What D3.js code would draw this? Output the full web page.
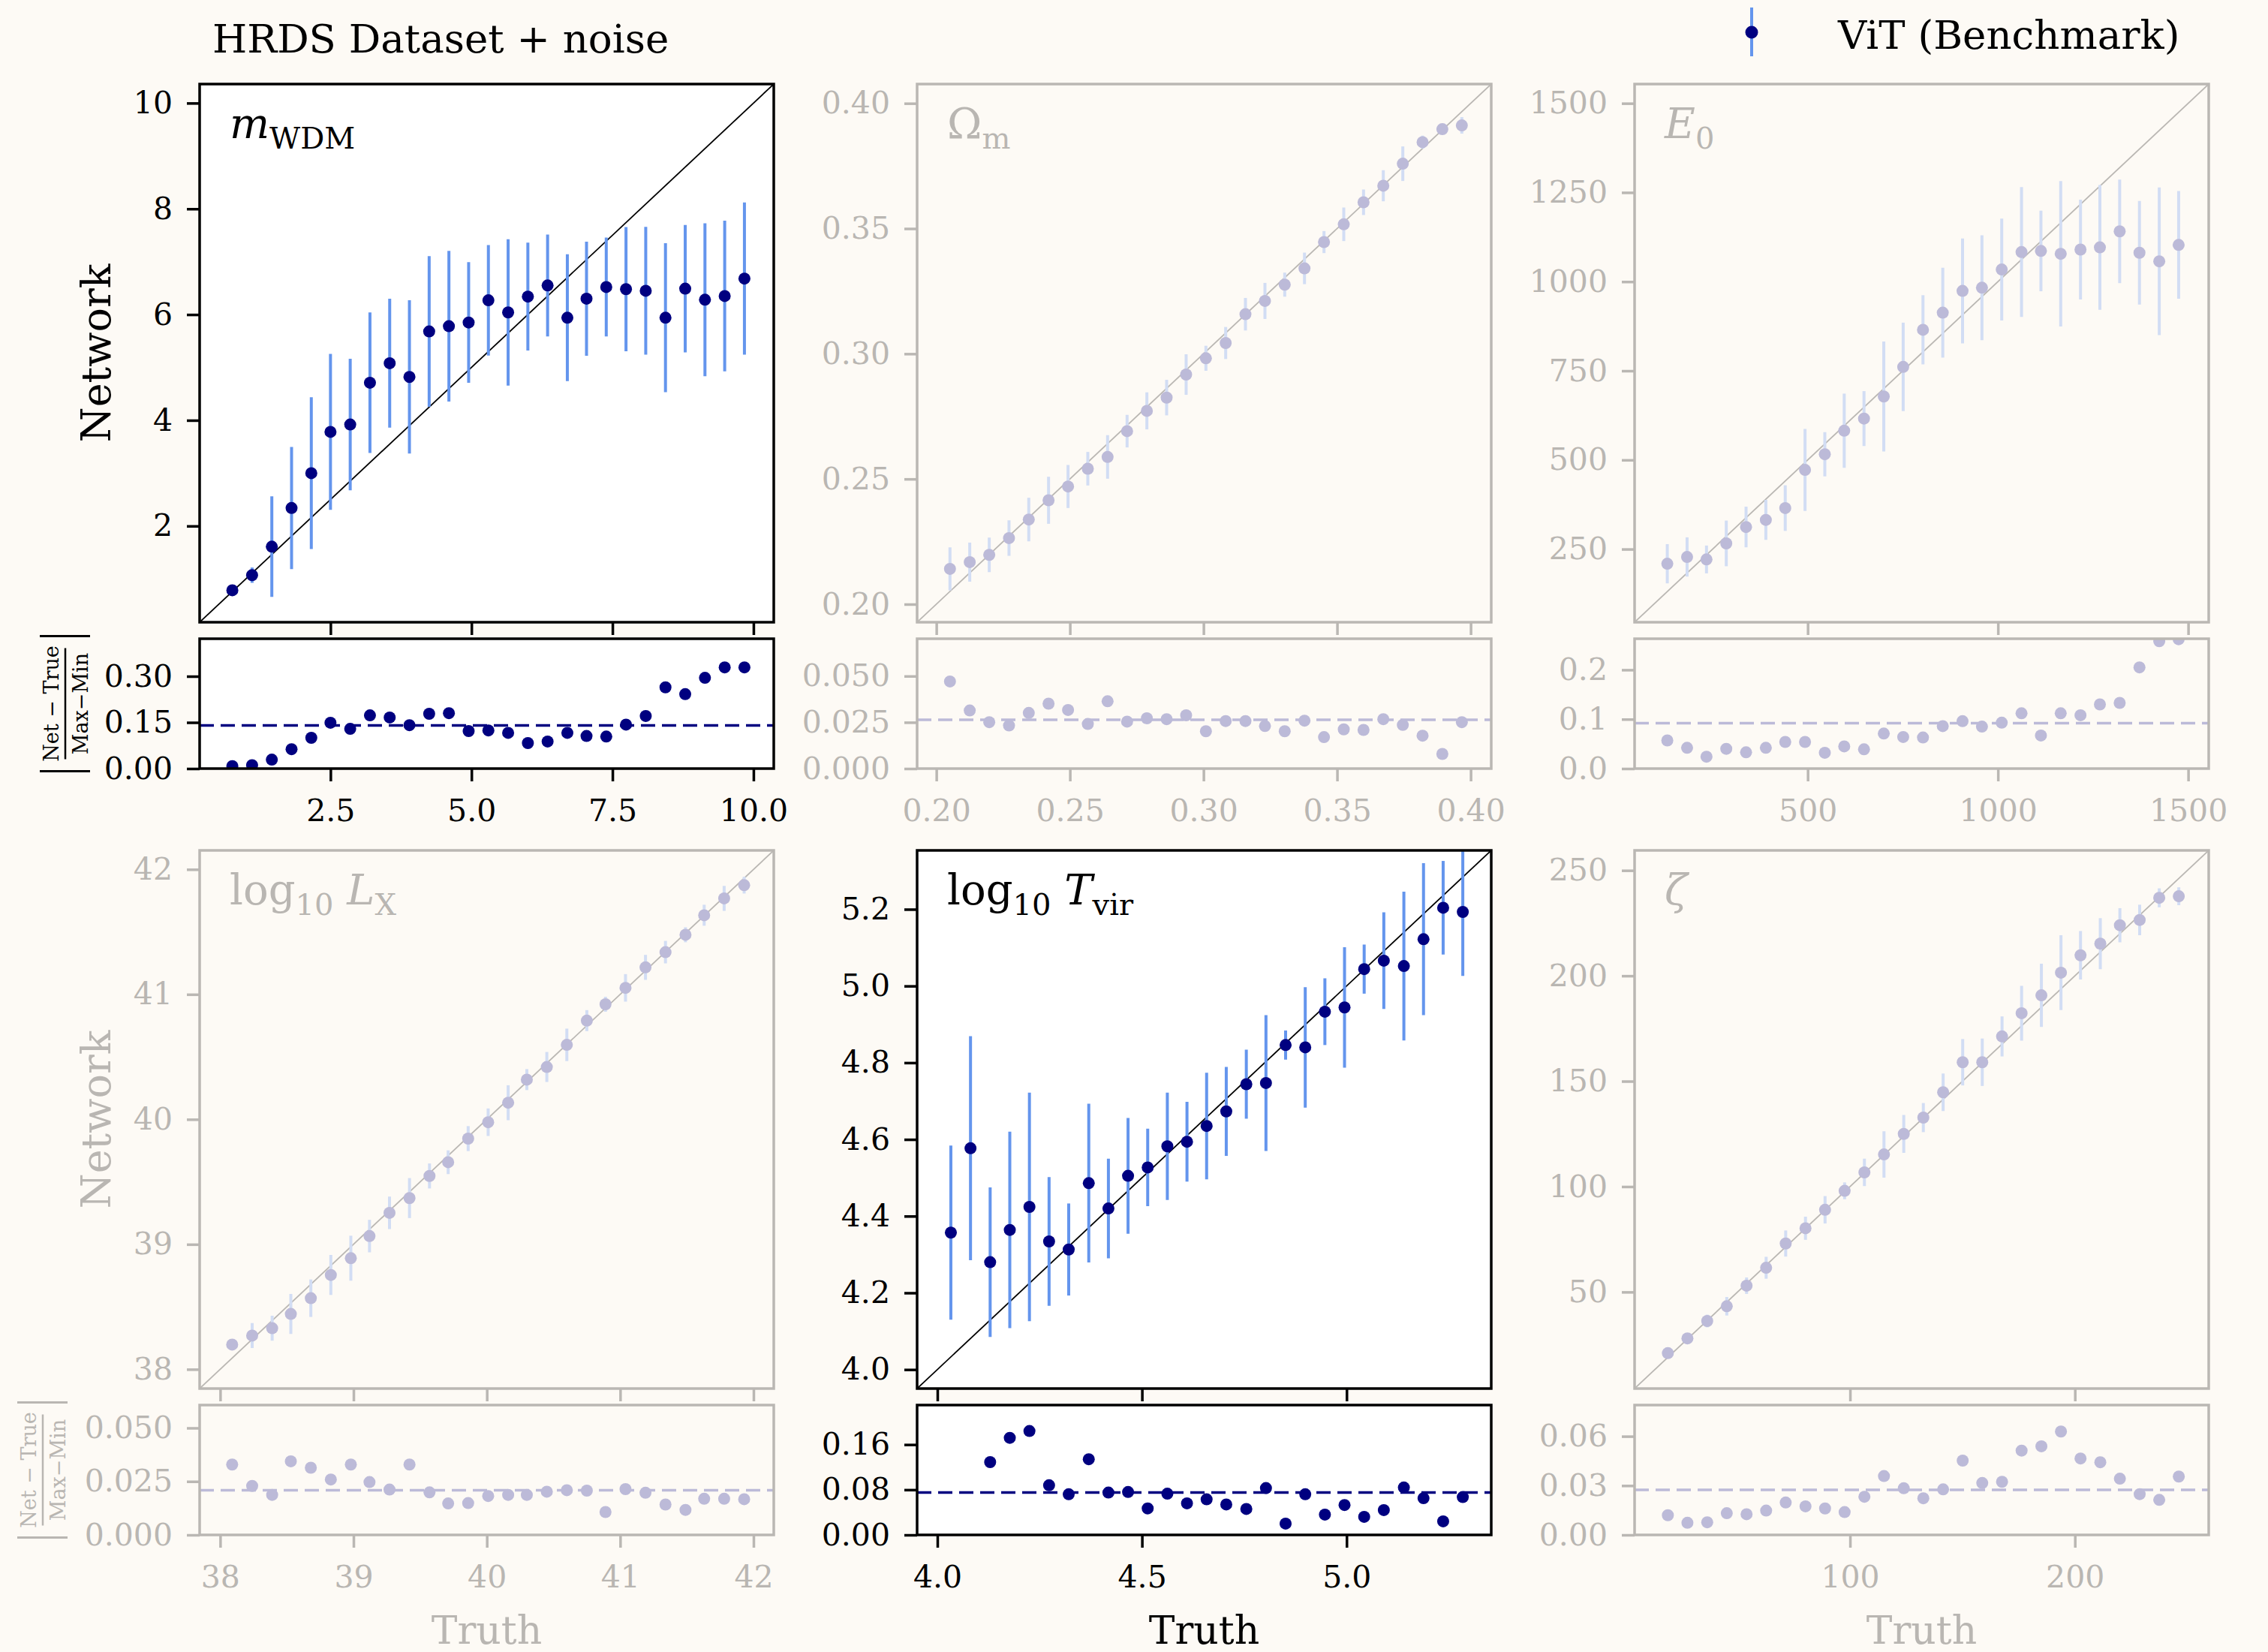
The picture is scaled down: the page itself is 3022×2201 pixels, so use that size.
<!DOCTYPE html>
<html>
<head>
<meta charset="utf-8">
<script src="https://cdn.jsdelivr.net/npm/d3@7"></script>
<style>
  body { margin: 0; background: #fdfaf5; }
  svg { display: block; }
</style>
</head>
<body>
<script>
// ---- data ----
const mwdmTruth = [0.76, 1.11, 1.46, 1.81, 2.16, 2.50, 2.85, 3.20, 3.55, 3.90, 4.25, 4.60, 4.95, 5.30, 5.65, 6.00, 6.35, 6.70, 7.04, 7.39, 7.74, 8.09, 8.44, 8.79, 9.14, 9.49, 9.84];
const mwdmNet = [0.785, 1.07, 1.61, 2.34, 3.00, 3.78, 3.92, 4.71, 5.08, 4.82, 5.68, 5.78, 5.85, 6.27, 6.04, 6.34, 6.55, 5.94, 6.30, 6.52, 6.48, 6.45, 5.94, 6.49, 6.28, 6.35, 6.68];
const mwdmErr = [0.05, 0.145, 0.95, 1.155, 1.435, 1.475, 1.245, 1.33, 1.22, 1.45, 1.425, 1.425, 1.14, 1.045, 1.385, 1.02, 0.965, 1.2, 1.08, 0.935, 1.175, 1.21, 1.41, 1.205, 1.445, 1.425, 1.44];
const mwdmRes = [0.008, 0.011, 0.029, 0.063, 0.100, 0.149, 0.129, 0.173, 0.166, 0.141, 0.178, 0.180, 0.122, 0.124, 0.116, 0.083, 0.088, 0.116, 0.106, 0.104, 0.143, 0.171, 0.264, 0.242, 0.295, 0.329, 0.329];
const mwdmResMean = 0.140;

const omTruth = [0.2051, 0.2125, 0.2198, 0.2272, 0.2346, 0.2420, 0.2493, 0.2567, 0.2641, 0.2714, 0.2788, 0.2862, 0.2935, 0.3009, 0.3083, 0.3157, 0.3230, 0.3304, 0.3378, 0.3451, 0.3525, 0.3599, 0.3673, 0.3746, 0.3820, 0.3894, 0.3967];
const omNet = [0.2141, 0.2168, 0.2197, 0.2264, 0.2338, 0.2415, 0.2470, 0.2541, 0.2588, 0.2691, 0.2772, 0.2825, 0.2917, 0.2982, 0.3043, 0.3158, 0.3211, 0.3276, 0.3341, 0.3446, 0.3517, 0.3605, 0.3671, 0.3759, 0.3845, 0.3897, 0.3912];
const omErr = [0.0086, 0.0078, 0.0069, 0.0071, 0.0087, 0.0094, 0.0086, 0.0067, 0.0087, 0.0065, 0.0074, 0.0071, 0.0081, 0.0050, 0.0064, 0.0065, 0.0072, 0.0048, 0.0063, 0.0044, 0.0067, 0.0051, 0.0062, 0.0069, 0.0026, 0.0010, 0.0033];
const omRes = [0.0471, 0.0314, 0.0251, 0.0233, 0.0301, 0.0351, 0.0317, 0.0241, 0.0364, 0.0254, 0.0272, 0.0267, 0.0288, 0.0202, 0.0257, 0.0257, 0.0230, 0.0202, 0.0259, 0.0170, 0.0212, 0.0209, 0.0267, 0.0236, 0.0178, 0.0079, 0.0251];
const omResMean = 0.0264;

const e0Truth = [131, 183, 234, 286, 338, 390, 441, 493, 545, 596, 648, 700, 751, 803, 855, 907, 958, 1010, 1062, 1113, 1165, 1217, 1268, 1320, 1372, 1424, 1475];
const e0Net = [209, 228, 221, 266, 312, 332, 365, 472, 516, 582, 616, 678, 761, 865, 913, 974, 983, 1034, 1083, 1086, 1078, 1090, 1096, 1141, 1081, 1057, 1103];
const e0Err = [55, 55, 39, 64, 57, 56, 64, 115, 62, 104, 77, 154, 124, 97, 126, 147, 147, 143, 182, 113, 204, 140, 175, 145, 145, 207, 151];
const e0Res = [0.057, 0.042, 0.024, 0.040, 0.033, 0.042, 0.054, 0.054, 0.032, 0.045, 0.039, 0.071, 0.064, 0.063, 0.086, 0.096, 0.085, 0.093, 0.112, 0.067, 0.112, 0.108, 0.130, 0.133, 0.205, 0.258, 0.262];
const e0ResMean = 0.092;

const lxTruth = [38.09, 38.24, 38.39, 38.53, 38.68, 38.83, 38.98, 39.12, 39.27, 39.42, 39.57, 39.71, 39.86, 40.01, 40.16, 40.30, 40.45, 40.60, 40.75, 40.89, 41.04, 41.19, 41.34, 41.49, 41.63, 41.78, 41.93];
const lxNet = [38.198, 38.270, 38.329, 38.443, 38.569, 38.755, 38.889, 39.066, 39.252, 39.370, 39.547, 39.657, 39.846, 39.977, 40.133, 40.318, 40.419, 40.596, 40.790, 40.921, 41.052, 41.216, 41.338, 41.477, 41.633, 41.768, 41.874];
const lxErr = [0.02, 0.10, 0.10, 0.16, 0.15, 0.16, 0.18, 0.13, 0.13, 0.16, 0.10, 0.095, 0.10, 0.11, 0.14, 0.084, 0.12, 0.13, 0.084, 0.06, 0.11, 0.10, 0.09, 0.06, 0.084, 0.10, 0.067];
const lxRes = [0.0329, 0.0229, 0.0187, 0.0344, 0.0314, 0.0259, 0.0329, 0.0247, 0.0212, 0.0329, 0.0199, 0.0147, 0.0149, 0.0182, 0.0187, 0.0187, 0.0202, 0.0209, 0.0207, 0.0107, 0.0214, 0.0197, 0.0142, 0.0117, 0.0169, 0.0169, 0.0167];
const lxResMean = 0.0209;

const tvTruth = [4.033, 4.081, 4.129, 4.177, 4.225, 4.273, 4.321, 4.370, 4.418, 4.466, 4.514, 4.562, 4.610, 4.658, 4.706, 4.755, 4.803, 4.851, 4.899, 4.947, 4.995, 5.043, 5.091, 5.140, 5.188, 5.236, 5.284];
const tvNet = [4.357, 4.577, 4.280, 4.364, 4.424, 4.334, 4.313, 4.486, 4.420, 4.505, 4.527, 4.582, 4.594, 4.635, 4.673, 4.744, 4.747, 4.846, 4.840, 4.933, 4.944, 5.044, 5.066, 5.052, 5.122, 5.204, 5.193];
const tvErr = [0.227, 0.292, 0.195, 0.256, 0.298, 0.168, 0.120, 0.207, 0.130, 0.151, 0.101, 0.140, 0.104, 0.139, 0.116, 0.090, 0.177, 0.038, 0.157, 0.087, 0.157, 0.064, 0.126, 0.194, 0.198, 0.122, 0.167];
const tvRes = [0.26, 0.31, 0.129, 0.172, 0.184, 0.088, 0.072, 0.134, 0.075, 0.076, 0.047, 0.073, 0.056, 0.063, 0.054, 0.046, 0.083, 0.020, 0.072, 0.036, 0.053, 0.032, 0.044, 0.084, 0.065, 0.024, 0.067];
const tvResMean = 0.075;

const zetaTruth = [19.0, 27.7, 36.5, 45.2, 54.0, 62.7, 71.4, 80.2, 88.9, 97.6, 106.4, 115.1, 123.9, 132.6, 141.4, 150.1, 158.8, 167.6, 176.3, 185.1, 193.8, 202.5, 211.3, 220.0, 228.8, 237.5, 246.2];
const zetaNet = [21.0, 28.0, 36.25, 43.25, 53.0, 61.5, 73.0, 80.25, 89.0, 98.0, 106.75, 115.25, 125.0, 132.75, 144.75, 159.0, 159.0, 171.25, 182.25, 190.75, 201.5, 209.75, 215.25, 224.0, 226.5, 237.0, 237.75];
const zetaErr = [1, 1.5, 3, 4.4, 3.9, 5.2, 6.2, 5.5, 6.5, 4, 6.5, 11, 9, 6.9, 8.9, 11, 11.25, 9.5, 13, 15, 17.75, 11.5, 12.1, 8.1, 7.25, 4.5, 4.25];
const zetaRes = [0.012, 0.0074, 0.0077, 0.0132, 0.0126, 0.0148, 0.0197, 0.0174, 0.0161, 0.0139, 0.0232, 0.0358, 0.0284, 0.0223, 0.0277, 0.0452, 0.0316, 0.0323, 0.0513, 0.0539, 0.0629, 0.0465, 0.0442, 0.0342, 0.0248, 0.0213, 0.0355];
const zetaResMean = 0.0274;

// tick values
const mwdmXTicks = [2.5, 5.0, 7.5, 10.0], mwdmYTicks = [2, 4, 6, 8, 10], mwdmResTicks = [0, 0.15, 0.30];
const omXTicks = [0.20, 0.25, 0.30, 0.35, 0.40], omYTicks = [0.20, 0.25, 0.30, 0.35, 0.40], omResTicks = [0, 0.025, 0.050];
const e0XTicks = [500, 1000, 1500], e0YTicks = [250, 500, 750, 1000, 1250, 1500], e0ResTicks = [0, 0.1, 0.2];
const lxXTicks = [38, 39, 40, 41, 42], lxYTicks = [38, 39, 40, 41, 42], lxResTicks = [0, 0.025, 0.050];
const tvXTicks = [4.0, 4.5, 5.0], tvYTicks = [4.0, 4.2, 4.4, 4.6, 4.8, 5.0, 5.2], tvResTicks = [0, 0.08, 0.16];
const zetaXTicks = [100, 200], zetaYTicks = [50, 100, 150, 200, 250], zetaResTicks = [0, 0.03, 0.06];

const titleText = 'HRDS Dataset + noise';
const legendText = 'ViT (Benchmark)';

// ---- layout ----
const W = 3022, H = 2201;
const BG = '#fdfaf5';
const FONT = '"DejaVu Serif", serif';
const colX = [266, 1222, 2178], pw = 765;
const mainY = [112, 1133], mainH = 717;
const resY = [851, 1872], resH = 173;
const resLabelX = [87, 57];

const on = { axis: '#000', text: '#000', point: '#000080', err: '#6495ed', diag: '#000', face: '#fff' };
const off = { axis: '#bab7b3', text: '#b9b6b2', point: '#bcbad8', err: '#d2ddf4', diag: '#bab7b3', face: 'none' };

const panels = [
  { col: 0, row: 0, active: true, truth: mwdmTruth, net: mwdmNet, err: mwdmErr, res: mwdmRes, mean: mwdmResMean,
    dom: [0.18, 10.36], xt: mwdmXTicks, xf: '.1f', yt: mwdmYTicks, yf: 'd', resDom: [0, 0.422], rt: mwdmResTicks, rf: '.2f',
    label: [{ t: 'm', it: 1 }, { t: 'WDM', sub: 1 }] },
  { col: 1, row: 0, active: false, truth: omTruth, net: omNet, err: omErr, res: omRes, mean: omResMean,
    dom: [0.1928, 0.4077], xt: omXTicks, xf: '.2f', yt: omYTicks, yf: '.2f', resDom: [0, 0.0702], rt: omResTicks, rf: '.3f',
    label: [{ t: 'Ω' }, { t: 'm', sub: 1 }] },
  { col: 2, row: 0, active: false, truth: e0Truth, net: e0Net, err: e0Err, res: e0Res, mean: e0ResMean,
    dom: [45, 1554], xt: e0XTicks, xf: 'd', yt: e0YTicks, yf: 'd', resDom: [0, 0.263], rt: e0ResTicks, rf: '.1f',
    label: [{ t: 'E', it: 1 }, { t: '0', sub: 1 }] },
  { col: 0, row: 1, active: false, truth: lxTruth, net: lxNet, err: lxErr, res: lxRes, mean: lxResMean,
    dom: [37.846, 42.152], xt: lxXTicks, xf: 'd', yt: lxYTicks, yf: 'd', resDom: [0, 0.0607], rt: lxResTicks, rf: '.3f',
    label: [{ t: 'log' }, { t: '10', sub: 1 }, { t: ' ' }, { t: 'L', it: 1 }, { t: 'X', sub: 1 }] },
  { col: 1, row: 1, active: true, truth: tvTruth, net: tvNet, err: tvErr, res: tvRes, mean: tvResMean,
    dom: [3.9505, 5.3535], xt: tvXTicks, xf: '.1f', yt: tvYTicks, yf: '.1f', resDom: [0, 0.23], rt: tvResTicks, rf: '.2f',
    label: [{ t: 'log' }, { t: '10', sub: 1 }, { t: ' ' }, { t: 'T', it: 1 }, { t: 'vir', sub: 1 }] },
  { col: 2, row: 1, active: false, truth: zetaTruth, net: zetaNet, err: zetaErr, res: zetaRes, mean: zetaResMean,
    dom: [4.2, 259.5], xt: zetaXTicks, xf: 'd', yt: zetaYTicks, yf: 'd', resDom: [0, 0.079], rt: zetaResTicks, rf: '.2f',
    label: [{ t: 'ζ', it: 1 }] }
];

const svg = d3.select('body').append('svg')
  .attr('width', W).attr('height', H)
  .attr('font-family', FONT);
svg.append('rect').attr('width', W).attr('height', H).attr('fill', BG);
const defs = svg.append('defs');

function styleAxis(g, c) {
  g.attr('font-family', FONT).attr('font-size', 41);
  g.select('.domain').remove();
  g.selectAll('.tick line').attr('stroke', c.axis).attr('stroke-width', 3.5);
  g.selectAll('.tick text').attr('fill', c.text);
}

panels.forEach((p, i) => {
  const c = p.active ? on : off;
  const x0 = colX[p.col], my = mainY[p.row], ry = resY[p.row];
  const x = d3.scaleLinear().domain(p.dom).range([x0, x0 + pw]);
  const y = d3.scaleLinear().domain(p.dom).range([my + mainH, my]);
  const yr = d3.scaleLinear().domain(p.resDom).range([ry + resH, ry]);

  defs.append('clipPath').attr('id', 'cm' + i).append('rect')
    .attr('x', x0).attr('y', my).attr('width', pw).attr('height', mainH);
  defs.append('clipPath').attr('id', 'cr' + i).append('rect')
    .attr('x', x0).attr('y', ry).attr('width', pw).attr('height', resH);

  // faces
  svg.append('rect').attr('x', x0).attr('y', my).attr('width', pw).attr('height', mainH).attr('fill', c.face);
  svg.append('rect').attr('x', x0).attr('y', ry).attr('width', pw).attr('height', resH).attr('fill', c.face);

  // main panel
  const gm = svg.append('g').attr('clip-path', `url(#cm${i})`);
  gm.append('line')
    .attr('x1', x(p.dom[0])).attr('y1', y(p.dom[0]))
    .attr('x2', x(p.dom[1])).attr('y2', y(p.dom[1]))
    .attr('stroke', c.diag).attr('stroke-width', 1.8);
  gm.selectAll('line.err').data(p.net).enter().append('line').attr('class', 'err')
    .attr('x1', (d, k) => x(p.truth[k])).attr('x2', (d, k) => x(p.truth[k]))
    .attr('y1', (d, k) => y(d - p.err[k])).attr('y2', (d, k) => y(d + p.err[k]))
    .attr('stroke', c.err).attr('stroke-width', 4);
  gm.selectAll('circle').data(p.net).enter().append('circle')
    .attr('cx', (d, k) => x(p.truth[k])).attr('cy', d => y(d)).attr('r', 8)
    .attr('fill', c.point);

  // residual panel
  const gr = svg.append('g').attr('clip-path', `url(#cr${i})`);
  gr.append('line')
    .attr('x1', x0).attr('x2', x0 + pw).attr('y1', yr(p.mean)).attr('y2', yr(p.mean))
    .attr('stroke', c.point).attr('stroke-width', 3.5).attr('stroke-dasharray', '19,9');
  gr.selectAll('circle').data(p.res).enter().append('circle')
    .attr('cx', (d, k) => x(p.truth[k])).attr('cy', d => yr(d)).attr('r', 8)
    .attr('fill', c.point);

  // axes
  svg.append('g').attr('transform', `translate(${x0},0)`)
    .call(d3.axisLeft(y).tickValues(p.yt).tickFormat(d3.format(p.yf)).tickSize(17).tickPadding(19))
    .call(g => styleAxis(g, c));
  svg.append('g').attr('transform', `translate(0,${my + mainH})`)
    .call(d3.axisBottom(x).tickValues(p.xt).tickFormat('').tickSize(17))
    .call(g => styleAxis(g, c));
  svg.append('g').attr('transform', `translate(${x0},0)`)
    .call(d3.axisLeft(yr).tickValues(p.rt).tickFormat(d3.format(p.rf)).tickSize(17).tickPadding(19))
    .call(g => styleAxis(g, c));
  svg.append('g').attr('transform', `translate(0,${ry + resH})`)
    .call(d3.axisBottom(x).tickValues(p.xt).tickFormat(d3.format(p.xf)).tickSize(17).tickPadding(24))
    .call(g => styleAxis(g, c));

  // frames
  [[my, mainH], [ry, resH]].forEach(([top, h]) => {
    svg.append('rect').attr('x', x0).attr('y', top).attr('width', pw).attr('height', h)
      .attr('fill', 'none').attr('stroke', c.axis).attr('stroke-width', 3.5);
  });

  // parameter label
  const lt = svg.append('text').attr('x', x0 + 40).attr('y', my + 72)
    .attr('font-size', 56).attr('fill', c.text);
  let shift = 0;
  p.label.forEach(s => {
    const want = s.sub ? 14 : 0;
    lt.append('tspan')
      .attr('dy', want - shift)
      .attr('font-size', s.sub ? 40 : 56)
      .attr('font-style', s.it ? 'italic' : 'normal')
      .text(s.t);
    shift = want;
  });

  // axis labels
  if (p.col === 0) {
    svg.append('text')
      .attr('transform', `translate(147,${my + mainH / 2}) rotate(-90)`)
      .attr('text-anchor', 'middle').attr('font-size', 54).attr('fill', c.text)
      .text('Network');
    const fg = svg.append('g')
      .attr('transform', `translate(${resLabelX[p.row]},${ry + resH / 2}) rotate(-90)`);
    fg.append('text').attr('x', 0).attr('y', -9).attr('text-anchor', 'middle')
      .attr('font-size', 27).attr('fill', c.text).text('Net − True');
    fg.append('text').attr('x', 0).attr('y', 30).attr('text-anchor', 'middle')
      .attr('font-size', 27).attr('fill', c.text).text('Max−Min');
    fg.append('line').attr('x1', -74).attr('x2', 74).attr('y1', 0).attr('y2', 0)
      .attr('stroke', c.text).attr('stroke-width', 2.5);
    [-90, 90].forEach(lx => fg.append('line')
      .attr('x1', lx).attr('x2', lx).attr('y1', -34).attr('y2', 33)
      .attr('stroke', c.text).attr('stroke-width', 3));
  }
  if (p.row === 1) {
    svg.append('text').attr('x', x0 + pw / 2).attr('y', 2190)
      .attr('text-anchor', 'middle').attr('font-size', 52).attr('fill', c.text)
      .text('Truth');
  }
});

// title
svg.append('text').attr('x', 283).attr('y', 70).attr('font-size', 53).attr('fill', '#000').text(titleText);

// legend
svg.append('line').attr('x1', 2334).attr('x2', 2334).attr('y1', 10).attr('y2', 75)
  .attr('stroke', on.err).attr('stroke-width', 4);
svg.append('circle').attr('cx', 2334).attr('cy', 43).attr('r', 8.5).attr('fill', on.point);
svg.append('text').attr('x', 2449).attr('y', 65).attr('font-size', 53).attr('fill', '#000').text(legendText);
</script>
</body>
</html>
